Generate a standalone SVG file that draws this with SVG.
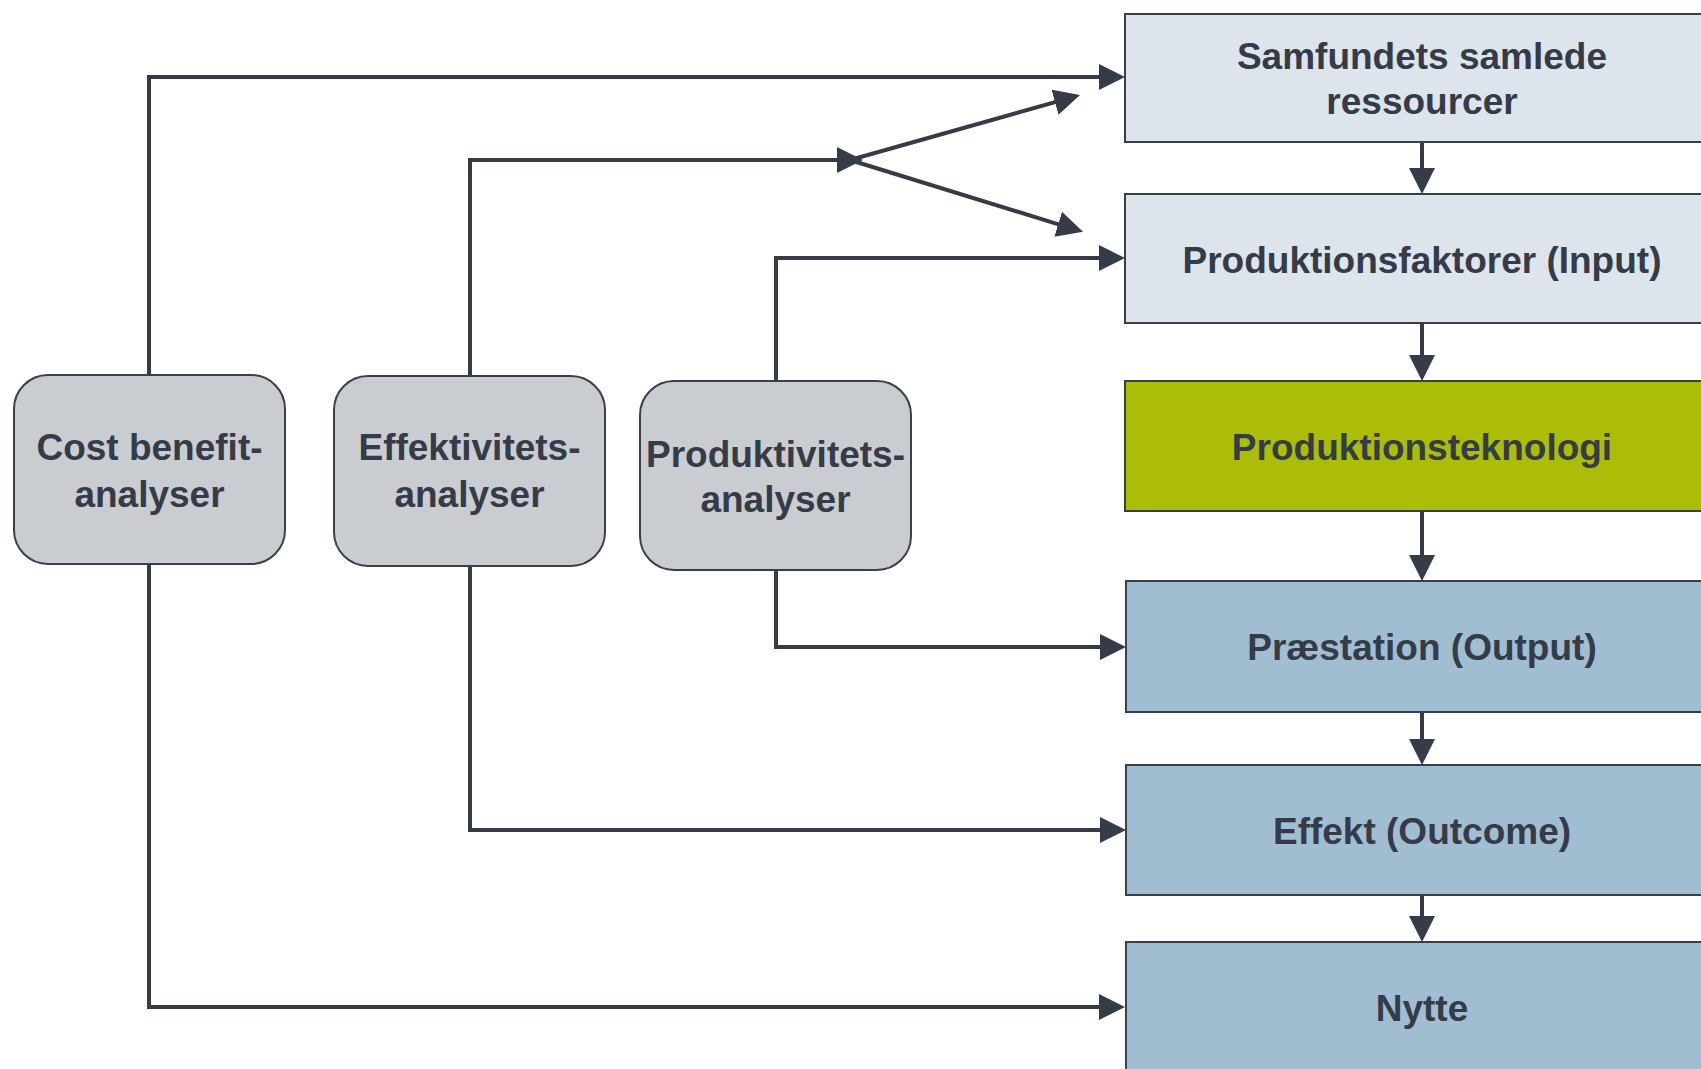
<svg xmlns="http://www.w3.org/2000/svg" width="1701" height="1069" viewBox="0 0 1701 1069">
  <style>
    .box { stroke: #3a404a; stroke-width: 2; }
    .light { fill: #dde4ec; }
    .green { fill: #abbd06; }
    .blue { fill: #a0bdd2; }
    .grey { fill: #c9ccd1; }
    .lbl { font-family: "Liberation Sans", Arial, sans-serif; font-weight: bold; font-size: 37px; fill: #353b47; text-anchor: middle; }
    .conn { fill: none; stroke: #353b47; stroke-width: 4; marker-end: url(#arrow); }
  </style>
  <defs>
    <marker id="arrow" markerUnits="userSpaceOnUse" markerWidth="26" markerHeight="26" viewBox="0 0 26 26" refX="2" refY="13" orient="auto">
      <path d="M0,0 L26,13 L0,26 Z" fill="#353b47"/>
    </marker>
  </defs>
  <rect width="1701" height="1069" fill="#ffffff"/>

  <g id="connectors">
    <path class="conn" d="M149,375 V77 H1101"/>
    <path class="conn" d="M149,564 V1007 H1101"/>
    <path class="conn" d="M470,376 V160 H839"/>
    <path class="conn" d="M850,160 L1056.9,101.6"/>
    <path class="conn" d="M850,160 L1060.1,224.8"/>
    <path class="conn" d="M776,381 V258 H1101"/>
    <path class="conn" d="M776,570 V647 H1102"/>
    <path class="conn" d="M470,565 V830 H1102"/>
    <path class="conn" d="M1422,142 V170"/>
    <path class="conn" d="M1422,323 V357"/>
    <path class="conn" d="M1422,511 V557"/>
    <path class="conn" d="M1422,712 V741"/>
    <path class="conn" d="M1422,895 V918"/>
  </g>

  <g id="samfundets">
    <rect class="box light" x="1125" y="14" width="600" height="128"/>
    <text class="lbl" x="1422" y="69">Samfundets samlede</text>
    <text class="lbl" x="1422" y="114">ressourcer</text>
  </g>
  <g id="produktionsfaktorer">
    <rect class="box light" x="1125" y="194" width="600" height="129"/>
    <text class="lbl" x="1422" y="273">Produktionsfaktorer (Input)</text>
  </g>
  <g id="produktionsteknologi">
    <rect class="box green" x="1125" y="381" width="600" height="130"/>
    <text class="lbl" x="1422" y="460">Produktionsteknologi</text>
  </g>
  <g id="praestation">
    <rect class="box blue" x="1126" y="581" width="600" height="131"/>
    <text class="lbl" x="1422" y="660">Præstation (Output)</text>
  </g>
  <g id="effekt">
    <rect class="box blue" x="1126" y="765" width="600" height="130"/>
    <text class="lbl" x="1422" y="844">Effekt (Outcome)</text>
  </g>
  <g id="nytte">
    <rect class="box blue" x="1126" y="942" width="600" height="160"/>
    <text class="lbl" x="1422" y="1021">Nytte</text>
  </g>

  <g id="costbenefit">
    <rect class="box grey" x="14" y="375" width="271" height="189" rx="34" ry="34"/>
    <text class="lbl" x="149.5" y="460">Cost benefit-</text>
    <text class="lbl" x="149.5" y="507">analyser</text>
  </g>
  <g id="effektivitet">
    <rect class="box grey" x="334" y="376" width="271" height="190" rx="34" ry="34"/>
    <text class="lbl" x="469.5" y="460">Effektivitets-</text>
    <text class="lbl" x="469.5" y="507">analyser</text>
  </g>
  <g id="produktivitet">
    <rect class="box grey" x="640" y="381" width="271" height="189" rx="34" ry="34"/>
    <text class="lbl" x="775.5" y="467">Produktivitets-</text>
    <text class="lbl" x="775.5" y="512">analyser</text>
  </g>
</svg>
